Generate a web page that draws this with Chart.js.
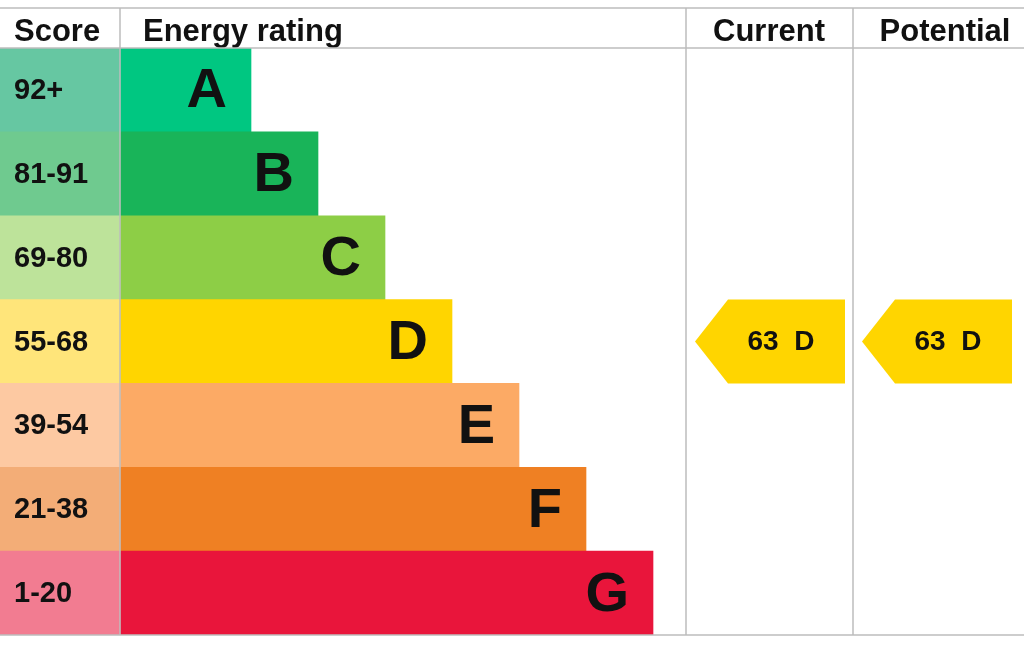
<!DOCTYPE html>
<html>
<head>
<meta charset="utf-8">
<script src="https://cdn.jsdelivr.net/npm/chart.js@4/dist/chart.umd.min.js"></script>
<style>
  html, body { margin: 0; padding: 0; background: #fff; }
  #wrap { width: 1024px; height: 653px; }
</style>
</head>
<body>
<div id="wrap"><canvas id="epc"></canvas></div>
<script>
// dades de la taula EPC
const bands = ['A', 'B', 'C', 'D', 'E', 'F', 'G'];
const scores = ['92+', '81-91', '69-80', '55-68', '39-54', '21-38', '1-20'];
const bandLength = [251, 318, 385, 452, 519, 586, 653];
const bandColors = ['#00c781', '#19b459', '#8dce46', '#ffd500', '#fcaa65', '#ef8023', '#e9153b'];
const scoreColors = ['#66c7a2', '#6fca8f', '#bde39a', '#ffe57a', '#fdc9a2', '#f3ad77', '#f27c91'];
const headers = ['Score', 'Energy rating', 'Current', 'Potential'];
const currentRating = { value: 63, band: 'D' };
const potentialRating = { value: 63, band: 'D' };

const FONT = '"Liberation Sans", Arial, sans-serif';
const COL_START = 120, CURRENT_X = 686, POTENTIAL_X = 853;

const taulaPlugin = {
  id: 'taula',
  afterDatasetsDraw(chart) {
    const ctx = chart.ctx;
    const y = chart.scales.y;
    const top = chart.chartArea.top, bottom = chart.chartArea.bottom;

    // textos de la columna de puntuació i lletres
    ctx.save();
    ctx.fillStyle = '#111';
    ctx.textBaseline = 'middle';
    bands.forEach((b, i) => {
      const cy = y.getPixelForValue(i);
      ctx.font = 'bold 29px ' + FONT;
      ctx.textAlign = 'left';
      ctx.fillText(scores[i], 14, cy + 1);
      ctx.font = 'bold 56px ' + FONT;
      ctx.textAlign = 'right';
      ctx.fillText(b, bandLength[i] - 24, cy + 2);
    });

    // fletxes actual / potencial
    function fletxa(x0, rating) {
      const idx = bands.indexOf(rating.band);
      const cy = y.getPixelForValue(idx);
      const h = (y.getPixelForValue(1) - y.getPixelForValue(0)) / 2;
      ctx.fillStyle = bandColors[idx];
      ctx.beginPath();
      ctx.moveTo(x0 + 9, cy);
      ctx.lineTo(x0 + 42, cy - h);
      ctx.lineTo(x0 + 159, cy - h);
      ctx.lineTo(x0 + 159, cy + h);
      ctx.lineTo(x0 + 42, cy + h);
      ctx.closePath();
      ctx.fill();
      ctx.fillStyle = '#111';
      ctx.font = 'bold 28px ' + FONT;
      ctx.textAlign = 'center';
      ctx.fillText(rating.value + '  ' + rating.band, x0 + 95, cy + 1);
    }
    fletxa(CURRENT_X, currentRating);
    fletxa(POTENTIAL_X, potentialRating);

    // capçaleres
    ctx.font = 'bold 31px ' + FONT;
    ctx.textBaseline = 'alphabetic';
    ctx.textAlign = 'left';
    ctx.fillText(headers[0], 14, 41);
    ctx.fillText(headers[1], 143, 41);
    ctx.textAlign = 'center';
    ctx.fillText(headers[2], 769, 41);
    ctx.fillText(headers[3], 945, 41);

    // línies de la graella
    ctx.strokeStyle = '#bdbdbd';
    ctx.lineWidth = 1.5;
    ctx.beginPath();
    ctx.moveTo(0, 8); ctx.lineTo(1024, 8);
    ctx.moveTo(0, top); ctx.lineTo(1024, top);
    ctx.moveTo(0, bottom); ctx.lineTo(1024, bottom);
    [COL_START, CURRENT_X, POTENTIAL_X].forEach(x => {
      ctx.moveTo(x, 8); ctx.lineTo(x, bottom);
    });
    ctx.stroke();
    ctx.restore();
  }
};

new Chart(document.getElementById('epc'), {
  type: 'bar',
  data: {
    labels: bands,
    datasets: [
      {
        data: scores.map(() => [0, COL_START]),
        backgroundColor: scoreColors,
        grouped: false,
        barPercentage: 1,
        categoryPercentage: 1
      },
      {
        data: bandLength.map(v => [COL_START, v]),
        backgroundColor: bandColors,
        grouped: false,
        barPercentage: 1,
        categoryPercentage: 1
      }
    ]
  },
  options: {
    indexAxis: 'y',
    responsive: true,
    maintainAspectRatio: false,
    animation: false,
    layout: { padding: { top: 48, bottom: 18, left: 0, right: 0 } },
    plugins: { legend: { display: false }, tooltip: { enabled: false } },
    scales: {
      x: { display: false, min: 0, max: 1024 },
      y: { display: false }
    }
  },
  plugins: [taulaPlugin]
});
</script>
</body>
</html>
